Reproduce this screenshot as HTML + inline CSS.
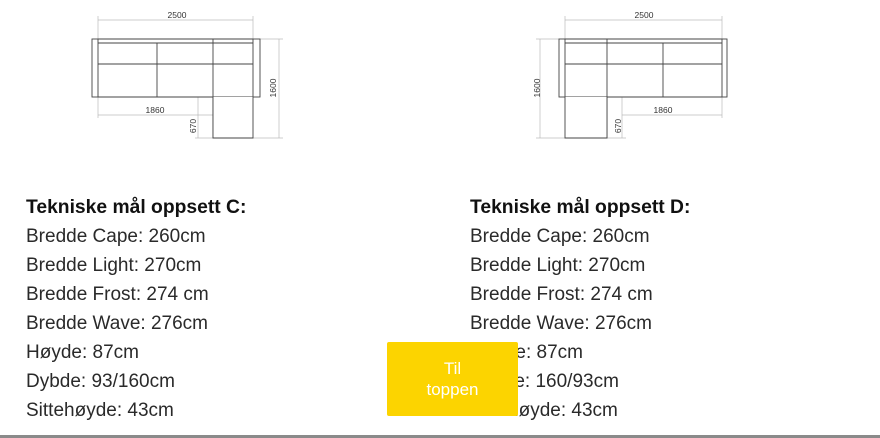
<!DOCTYPE html>
<html><head><meta charset="utf-8"><style>
body{margin:0;width:880px;height:438px;background:#fff;overflow:hidden;position:relative;font-family:"Liberation Sans",sans-serif;color:#2a2a2a}
.col{position:absolute;top:193px;font-size:19px;line-height:29px}
.col b{font-size:19.3px;color:#111}
.btn{position:absolute;left:387px;top:342px;width:131px;height:74px;background:#fcd400;color:#fff;font-size:17px;text-align:center;line-height:21px;box-sizing:border-box;padding-top:16px;border-radius:2px}
.bar{position:absolute;left:0;top:435px;width:880px;height:3px;background:#8a8a8a}
svg{position:absolute;left:0;top:0}
</style></head><body>
<svg width="880" height="160" font-family="Liberation Sans, sans-serif" font-size="8.5" fill="#333">
<g stroke="#bbb" stroke-width="0.7" fill="none">
<line x1="98" y1="20" x2="253" y2="20"/><line x1="98" y1="16" x2="98" y2="39"/><line x1="253" y1="16" x2="253" y2="39"/>
<line x1="279" y1="39" x2="279" y2="138"/><line x1="260" y1="39" x2="283" y2="39"/><line x1="253" y1="138" x2="283" y2="138"/>
<line x1="98" y1="115" x2="213" y2="115"/><line x1="98" y1="97" x2="98" y2="118"/>
<line x1="198" y1="97" x2="198" y2="138"/><line x1="195" y1="138" x2="213" y2="138"/><line x1="195" y1="97" x2="205" y2="97"/>
<line x1="565" y1="20" x2="722" y2="20"/><line x1="565" y1="16" x2="565" y2="39"/><line x1="722" y1="16" x2="722" y2="39"/>
<line x1="540" y1="39" x2="540" y2="138"/><line x1="536" y1="39" x2="559" y2="39"/><line x1="536" y1="138" x2="565" y2="138"/>
<line x1="622" y1="115" x2="722" y2="115"/><line x1="722" y1="97" x2="722" y2="118"/>
<line x1="622" y1="97" x2="622" y2="138"/><line x1="607" y1="138" x2="626" y2="138"/><line x1="618" y1="97" x2="630" y2="97"/>
</g>
<g stroke="#444" stroke-width="0.9" fill="none">
<rect x="92" y="39" width="168" height="58"/>
<rect x="98" y="39" width="155" height="58"/>
<line x1="98" y1="43" x2="253" y2="43"/><line x1="98" y1="64" x2="253" y2="64"/>
<line x1="157" y1="43" x2="157" y2="97"/><line x1="213" y1="39" x2="213" y2="138"/>
<polyline points="213,97 213,138 253,138 253,97" fill="#fff"/>
<rect x="559" y="39" width="168" height="58"/>
<rect x="565" y="39" width="157" height="58"/>
<line x1="565" y1="43" x2="722" y2="43"/><line x1="565" y1="64" x2="722" y2="64"/>
<line x1="607" y1="39" x2="607" y2="138"/><line x1="663" y1="43" x2="663" y2="97"/>
<polyline points="565,97 565,138 607,138 607,97" fill="#fff"/>
</g>
<text x="177" y="18" text-anchor="middle">2500</text>
<text x="155" y="113" text-anchor="middle">1860</text>
<text transform="translate(276,88) rotate(-90)" text-anchor="middle">1600</text>
<text transform="translate(196,126) rotate(-90)" text-anchor="middle">670</text>
<text x="644" y="18" text-anchor="middle">2500</text>
<text x="663" y="113" text-anchor="middle">1860</text>
<text transform="translate(540,88) rotate(-90)" text-anchor="middle">1600</text>
<text transform="translate(621,126) rotate(-90)" text-anchor="middle">670</text>
</svg>
<div class="col" style="left:26px"><b>Tekniske mål oppsett C:</b><br>Bredde Cape: 260cm<br>Bredde Light: 270cm<br>Bredde Frost: 274 cm<br>Bredde Wave: 276cm<br>Høyde: 87cm<br>Dybde: 93/160cm<br>Sittehøyde: 43cm</div>
<div class="col" style="left:470px"><b>Tekniske mål oppsett D:</b><br>Bredde Cape: 260cm<br>Bredde Light: 270cm<br>Bredde Frost: 274 cm<br>Bredde Wave: 276cm<br>Høyde: 87cm<br>Dybde: 160/93cm<br>Sittehøyde: 43cm</div>
<div class="btn">Til<br>toppen</div>
<div class="bar"></div>
</body></html>
